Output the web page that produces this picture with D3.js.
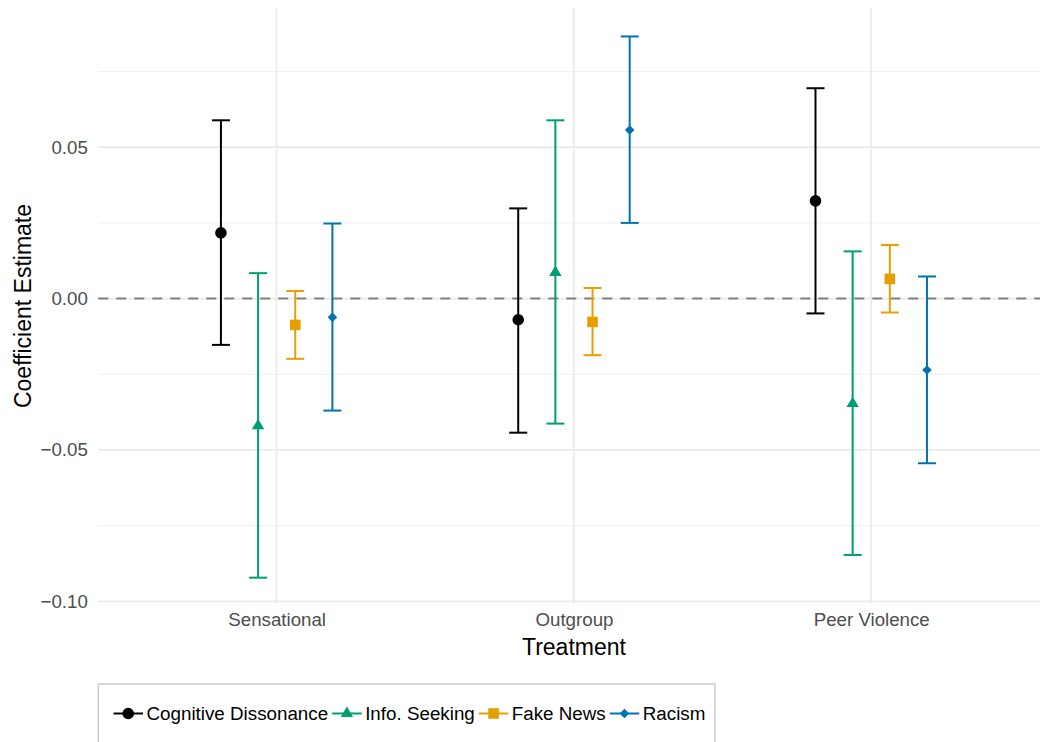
<!DOCTYPE html>
<html>
<head>
<meta charset="utf-8">
<script src="https://cdn.jsdelivr.net/npm/d3@7"></script>
<style>
  html, body { margin: 0; padding: 0; background: #ffffff; }
  svg { display: block; font-family: "Liberation Sans", Arial, Helvetica, sans-serif; }
</style>
</head>
<body>
<svg id="chart" width="1040" height="742"></svg>
<script>
// ---- data ----
const categories = ["Sensational", "Outgroup", "Peer Violence"];
const seriesNames = ["Cognitive Dissonance", "Info. Seeking", "Fake News", "Racism"];
const seriesColors = ["#000000", "#009E73", "#E69F00", "#0072B2"];
const seriesShapes = ["circle", "triangle", "square", "diamond"];

const estCognitive = [0.0217, -0.0070, 0.0323];
const estInfo      = [-0.0420, 0.0086, -0.0347];
const estFake      = [-0.0087, -0.0077, 0.0065];
const estRacism    = [-0.0062, 0.0557, -0.0236];

const lowCognitive = [-0.0153, -0.0443, -0.0049];
const lowInfo      = [-0.0922, -0.0413, -0.0847];
const lowFake      = [-0.0199, -0.0187, -0.0046];
const lowRacism    = [-0.0370, 0.0250, -0.0544];

const highCognitive = [0.0589, 0.0298, 0.0695];
const highInfo      = [0.0084, 0.0589, 0.0156];
const highFake      = [0.0025, 0.0035, 0.0177];
const highRacism    = [0.0248, 0.0866, 0.0073];

const yMajorTicks = [-0.10, -0.05, 0.00, 0.05];
const yMinorTicks = [-0.075, -0.025, 0.025, 0.075];
const yTickLabels = ["\u22120.10", "\u22120.05", "0.00", "0.05"];

const xTitle = "Treatment";
const yTitle = "Coefficient Estimate";

// ---- build table ----
const estimates = [estCognitive, estInfo, estFake, estRacism];
const lows = [lowCognitive, lowInfo, lowFake, lowRacism];
const highs = [highCognitive, highInfo, highFake, highRacism];
const rows = [];
seriesNames.forEach((s, si) => {
  categories.forEach((c, ci) => {
    rows.push({ series: s, si, category: c, est: estimates[si][ci], lo: lows[si][ci], hi: highs[si][ci] });
  });
});

// ---- layout ----
const svg = d3.select("#chart");
const panel = { left: 98.3, right: 1049.6, top: 8, bottom: 604 };

const x = d3.scalePoint().domain(categories).range([panel.left, panel.right]).padding(0.6);
const step = x.step();
const dodge = d3.scaleBand().domain(seriesNames).range([-0.25 * step, 0.25 * step]);
const xPos = d => x(d.category) + dodge(d.series) + dodge.bandwidth() / 2;

const yMin = -0.1009, yMax = 0.0960;
const y = d3.scaleLinear().domain([yMin, yMax]).range([panel.bottom, panel.top]);

// grid
const g = svg.append("g");
g.selectAll("line.minor").data(yMinorTicks).join("line")
  .attr("x1", panel.left).attr("x2", 1040)
  .attr("y1", d => y(d)).attr("y2", d => y(d))
  .attr("stroke", "#efefef").attr("stroke-width", 1);
g.selectAll("line.major").data(yMajorTicks).join("line")
  .attr("x1", panel.left).attr("x2", 1040)
  .attr("y1", d => y(d)).attr("y2", d => y(d))
  .attr("stroke", "#ebebeb").attr("stroke-width", 1.8);
g.selectAll("line.vmajor").data(categories).join("line")
  .attr("x1", d => x(d)).attr("x2", d => x(d))
  .attr("y1", panel.top).attr("y2", panel.bottom)
  .attr("stroke", "#ebebeb").attr("stroke-width", 1.8);

// zero dashed line
g.append("line")
  .attr("x1", panel.left).attr("x2", 1040)
  .attr("y1", y(0)).attr("y2", y(0))
  .attr("stroke", "#808080").attr("stroke-width", 2)
  .attr("stroke-dasharray", "10,8");

// axes (labels only, no lines)
const yAxis = d3.axisLeft(y).tickValues(yMajorTicks)
  .tickFormat((d, i) => yTickLabels[i]).tickSize(0).tickPadding(10.5);
const yAxisG = svg.append("g").attr("transform", `translate(${panel.left},0)`).call(yAxis);
yAxisG.select(".domain").remove();
yAxisG.selectAll("text").attr("font-size", 18.7).attr("fill", "#4d4d4d")
  .attr("font-family", "'Liberation Sans', Arial, sans-serif");

const xAxis = d3.axisBottom(x).tickSize(0).tickPadding(9);
const xAxisG = svg.append("g").attr("transform", `translate(0,${panel.bottom})`).call(xAxis);
xAxisG.select(".domain").remove();
xAxisG.selectAll("text").attr("font-size", 18.7).attr("fill", "#4d4d4d")
  .attr("font-family", "'Liberation Sans', Arial, sans-serif");

// titles
svg.append("text").attr("x", x("Outgroup")).attr("y", 655)
  .attr("text-anchor", "middle").attr("font-size", 23).attr("fill", "#000")
  .text(xTitle);
svg.append("text")
  .attr("transform", `translate(30.5,${(panel.top + panel.bottom) / 2}) rotate(-90)`)
  .attr("text-anchor", "middle").attr("font-size", 23).attr("fill", "#000")
  .text(yTitle);

// shapes
function shapePath(shape) {
  if (shape === "circle") return d3.symbol().type(d3.symbolCircle).size(Math.PI * 5.8 * 5.8)();
  if (shape === "triangle") {
    const h = 10.4, w = 12.4;
    return `M0,${-2 * h / 3}L${w / 2},${h / 3}L${-w / 2},${h / 3}Z`;
  }
  if (shape === "square") { const s = 10.6; return `M${-s/2},${-s/2}h${s}v${s}h${-s}Z`; }
  if (shape === "diamond") { const r = 4.8; return `M0,${-r}L${r},0L0,${r}L${-r},0Z`; }
}

// error bars
const capHalf = 9;
const lw = 2;
const eb = svg.append("g");
const groups = eb.selectAll("g.pt").data(rows).join("g")
  .attr("stroke", d => seriesColors[d.si]).attr("fill", d => seriesColors[d.si]);
groups.append("line")
  .attr("x1", xPos).attr("x2", xPos)
  .attr("y1", d => y(d.lo)).attr("y2", d => y(d.hi))
  .attr("stroke-width", lw);
groups.append("line")
  .attr("x1", d => xPos(d) - capHalf).attr("x2", d => xPos(d) + capHalf)
  .attr("y1", d => y(d.hi)).attr("y2", d => y(d.hi)).attr("stroke-width", lw);
groups.append("line")
  .attr("x1", d => xPos(d) - capHalf).attr("x2", d => xPos(d) + capHalf)
  .attr("y1", d => y(d.lo)).attr("y2", d => y(d.lo)).attr("stroke-width", lw);
groups.append("path")
  .attr("d", d => shapePath(seriesShapes[d.si]))
  .attr("transform", d => `translate(${xPos(d)},${y(d.est)})`)
  .attr("stroke", "none");

// legend
const leg = svg.append("g");
leg.append("rect")
  .attr("x", 98.3).attr("y", 684).attr("width", 616.7).attr("height", 80)
  .attr("fill", "#fff").attr("stroke", "#cfcfcf").attr("stroke-width", 1.6);
let cx = 113.5;
const keyW = 29.5, legY = 713.5;
seriesNames.forEach((s, i) => {
  const item = leg.append("g").attr("stroke", seriesColors[i]).attr("fill", seriesColors[i]);
  item.append("line").attr("x1", cx).attr("x2", cx + keyW)
    .attr("y1", legY).attr("y2", legY).attr("stroke-width", lw);
  item.append("path").attr("d", shapePath(seriesShapes[i]))
    .attr("transform", `translate(${cx + keyW / 2},${legY})`).attr("stroke", "none");
  const t = leg.append("text").attr("x", cx + keyW + 3.5).attr("y", 720)
    .attr("font-size", 18.8).attr("fill", "#000").text(s);
  cx = cx + keyW + 3.5 + t.node().getComputedTextLength() + 4;
});
</script>
</body>
</html>
